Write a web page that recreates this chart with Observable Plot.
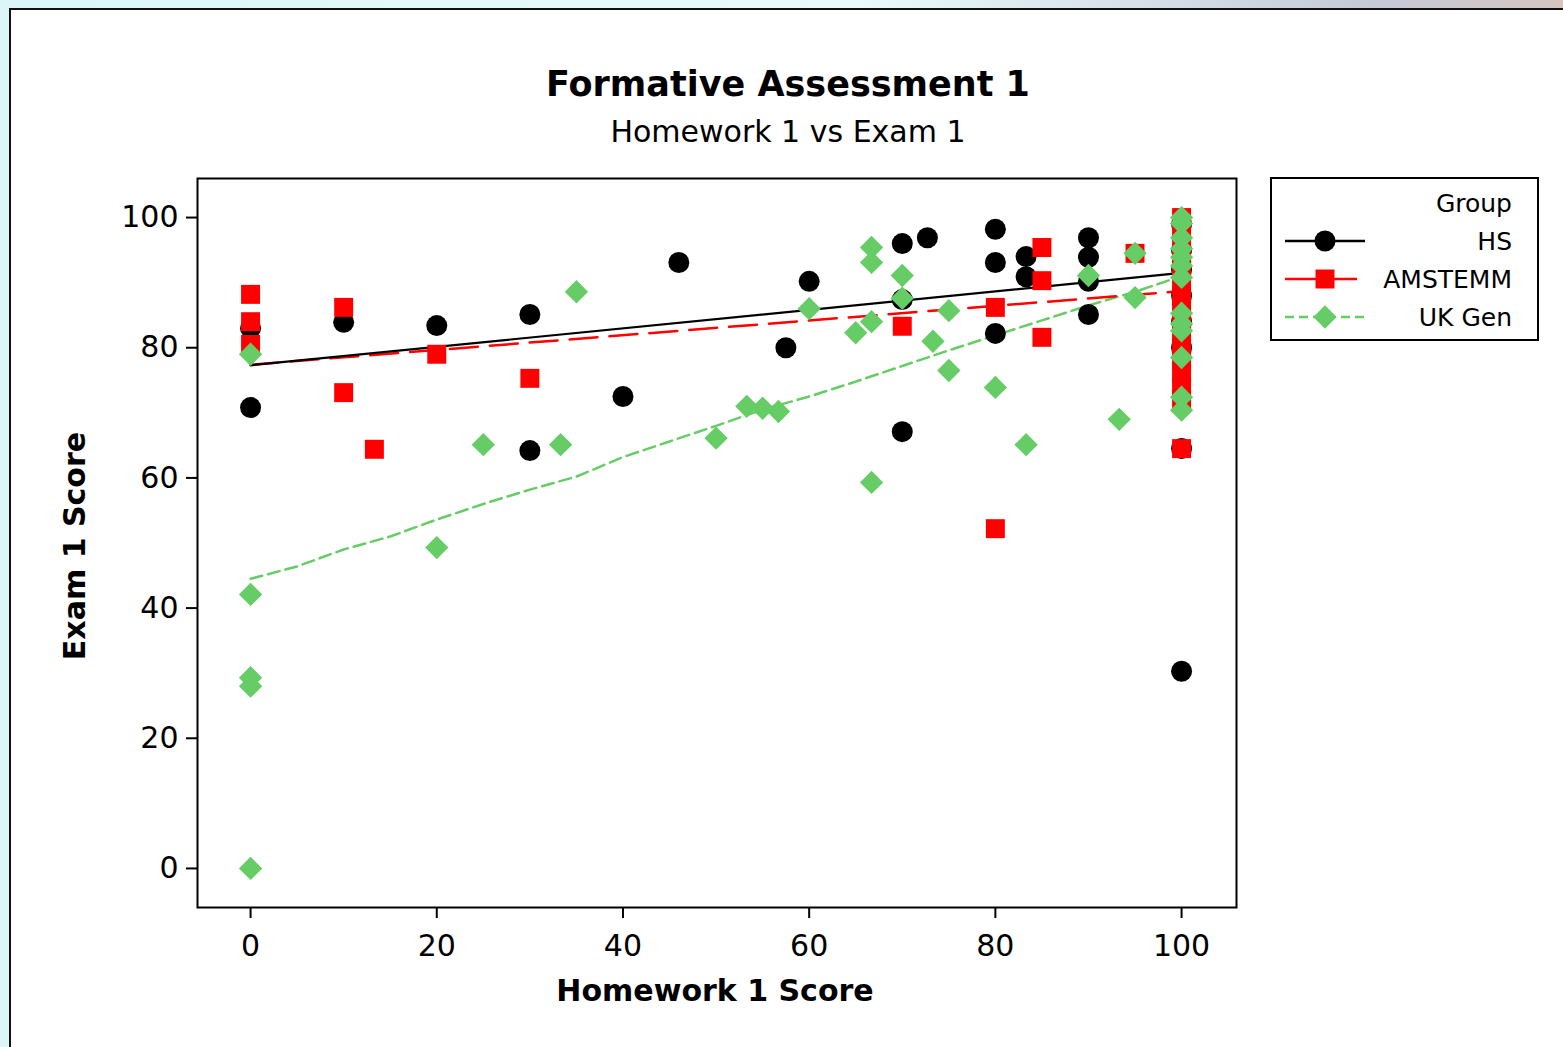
<!DOCTYPE html>
<html><head><meta charset="utf-8">
<script src="https://cdn.jsdelivr.net/npm/d3@7"></script>
<script src="https://cdn.jsdelivr.net/npm/@observablehq/plot@0.6"></script>
<style>
html,body{margin:0;padding:0;width:1563px;height:1047px;overflow:hidden;font-family:"DejaVu Sans",sans-serif;}
body{background:linear-gradient(90deg,#dcf6f7 0%,#eafbfc 55%,#c4cad6 88%,#d6c6c0 100%);position:relative;}
#sheet{position:absolute;left:9px;top:8px;width:1554px;height:1039px;background:#fff;border-left:2px solid #111;border-top:2px solid #111;}
#chart{position:absolute;left:0;top:0;}
#legend{position:absolute;left:0;top:0;}
</style></head>
<body>
<div id="sheet"></div>
<div id="chart"></div>
<svg id="legend" width="1563" height="1047"></svg>
<script>
// ---- data (Homework 1 score, Exam 1 score) ----
const hs = [[0,83],[0,70.8],[10,83.9],[20,83.4],[30,85.1],[30,64.2],[40,72.5],[46,93.1],[57.5,80],[60,90.2],
  [70,96],[70,87.4],[70,67.1],[72.7,96.9],[80,98.2],[80,93.1],[80,82.2],[83.3,94],[83.3,90.9],
  [90,96.9],[90,93.9],[90,90.2],[90,85.1],
  [100,99],[100,95],[100,92],[100,88],[100,84],[100,80],[100,64.5],[100,30.3]];
const amstemm = [[0,88.2],[0,84],[0,80.5],[10,86.2],[10,73.1],[13.3,64.4],[20,79],[30,75.3],[70,83.3],
  [80,86.2],[80,52.2],[85,95.4],[85,90.3],[85,81.6],[95,94.5],
  [100,100],[100,98],[100,96],[100,94],[100,92],[100,90],[100,88],[100,86],[100,84],[100,82],
  [100,80],[100,78],[100,76],[100,74],[100,72],[100,64.5]];
const ukGen = [[0,79],[0,42.1],[0,29.3],[0,28],[0,0],[20,49.3],[25,65.1],[33.3,65.1],[35,88.6],[50,66.1],
  [53.3,71],[55,70.7],[56.7,70.2],[60,86],[65,82.3],[66.7,95.4],[66.7,93.1],[66.7,84],[66.7,59.3],
  [70,91.1],[70,87.6],[73.3,81],[75,85.7],[75,76.5],[80,73.9],[83.3,65.1],[90,91.1],[93.3,69],
  [95,94.5],[95,87.7],
  [100,100],[100,99.1],[100,96.9],[100,95.2],[100,93.9],[100,92.6],[100,90.8],[100,85.3],[100,83.7],
  [100,82.6],[100,78.5],[100,72.4],[100,70.4]];
// fitted lines
const hsFit = [[0,77.3],[100,91.5]];
const amstemmFit = [[0,77.4],[100,88.7]];
const ukGenFit = [[0,44.5],[5,46.4],[10,49.0],[15,51.0],[20,53.6],[25,56.0],[30,58.2],[35,60.2],[40,63.2],
  [45,65.6],[50,68.0],[55,70.5],[60,72.5],[65,74.8],[70,77.2],[75,79.6],[80,81.9],[85,84.2],[90,86.5],
  [95,88.6],[100,91.0]];
const xTicks = [0,20,40,60,80,100];
const yTicks = [0,20,40,60,80,100];
const groups = ["HS","AMSTEMM","UK Gen"];
const title = "Formative Assessment 1";
const subtitle = "Homework 1 vs Exam 1";
const xLabel = "Homework 1 Score";
const yLabel = "Exam 1 Score";

const GREEN = "#66cc66", RED = "#ff0000", BLACK = "#000000";
const FONT = '"DejaVu Sans", sans-serif';
const px = d => d[0], py = d => d[1];

const chart = Plot.plot({
  width: 1563, height: 1047,
  marginLeft: 197, marginRight: 327, marginTop: 178, marginBottom: 140,
  style: {fontFamily: FONT, fontSize: "30px", background: "transparent", color: "black", overflow: "visible"},
  x: {domain: [-5.7, 105.9]},
  y: {domain: [-6, 106]},
  marks: [
    Plot.axisX({ticks: xTicks, tickSize: 11, tickPadding: 16, label: null, strokeWidth: 2, fontSize: 30}),
    Plot.axisY({ticks: yTicks, tickSize: 11, tickPadding: 8, label: null, strokeWidth: 2, fontSize: 30}),
    Plot.line(ukGenFit, {x: px, y: py, stroke: GREEN, strokeWidth: 2.5, strokeDasharray: "12,6"}),
    Plot.line(amstemmFit, {x: px, y: py, stroke: RED, strokeWidth: 2.5, strokeDasharray: "28,12"}),
    Plot.line(hsFit, {x: px, y: py, stroke: BLACK, strokeWidth: 2.2}),
    Plot.dot(hs, {x: px, y: py, symbol: "circle", r: 10.5, fill: BLACK}),
    Plot.dot(amstemm, {x: px, y: py, symbol: "square", r: 10.7, fill: RED}),
    Plot.dot(ukGen, {x: px, y: py, symbol: "diamond2", r: 10.5, fill: GREEN}),
    Plot.frame({stroke: "black", strokeWidth: 2}),
    Plot.text([title], {frameAnchor: "top", text: d => d, dx: 71, dy: -94, lineAnchor: "middle", textAnchor: "middle", fontSize: 35, fontWeight: "bold"}),
    Plot.text([subtitle], {frameAnchor: "top", text: d => d, dx: 71, dy: -46, lineAnchor: "middle", textAnchor: "middle", fontSize: 30}),
    Plot.text([xLabel], {frameAnchor: "bottom", text: d => d, dx: -2, dy: 84, lineAnchor: "middle", textAnchor: "middle", fontSize: 30, fontWeight: "bold"}),
    Plot.text([yLabel], {frameAnchor: "left", text: d => d, dx: -122, dy: 3, rotate: -90, lineAnchor: "middle", textAnchor: "middle", fontSize: 30, fontWeight: "bold"})
  ]
});
document.getElementById("chart").appendChild(chart);

// ---- legend ----
const lg = d3.select("#legend");
const box = {x: 1271, y: 178, w: 267, h: 162};
lg.append("rect").attr("x", box.x).attr("y", box.y).attr("width", box.w).attr("height", box.h)
  .attr("fill", "white").attr("stroke", "black").attr("stroke-width", 2);
lg.append("text").attr("x", 1512).attr("y", 203).attr("dy", "0.35em").attr("text-anchor", "end")
  .attr("font-family", FONT).attr("font-size", 25).text("Group");
const styles = [
  {color: BLACK, sym: d3.symbolCircle, r: 10.5, dash: null, x2: 1365},
  {color: RED, sym: d3.symbolSquare, r: 10.7, dash: null, x2: 1357},
  {color: GREEN, sym: d3.symbolDiamond2, r: 10.5, dash: "9,5", x2: 1365}
];
groups.forEach((g, i) => {
  const y = 241 + i * 38, s = styles[i];
  const ln = lg.append("line").attr("x1", 1285).attr("x2", s.x2).attr("y1", y).attr("y2", y)
    .attr("stroke", s.color).attr("stroke-width", 2.5);
  if (s.dash) ln.attr("stroke-dasharray", s.dash);
  lg.append("path").attr("d", d3.symbol(s.sym, Math.PI * s.r * s.r)()).attr("transform", `translate(1325,${y})`).attr("fill", s.color);
  lg.append("text").attr("x", 1512).attr("y", y).attr("dy", "0.35em").attr("text-anchor", "end")
    .attr("font-family", FONT).attr("font-size", 25).text(g);
});
</script>
</body></html>
